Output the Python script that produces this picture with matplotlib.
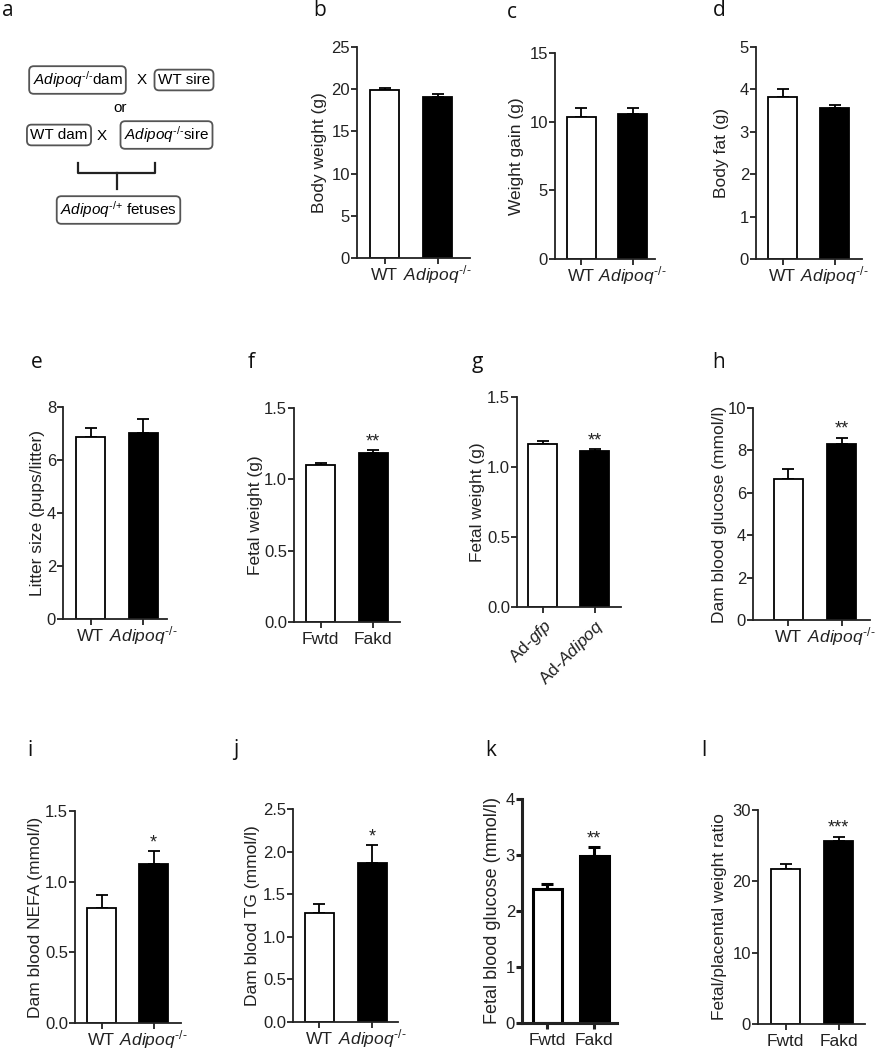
import matplotlib
matplotlib.use("Agg")
import matplotlib.pyplot as plt
from matplotlib.lines import Line2D
import numpy as np

plt.rcParams["font.family"] = ["Liberation Sans", "DejaVu Sans"]
plt.rcParams["mathtext.fontset"] = "custom"
plt.rcParams["mathtext.rm"] = "Liberation Sans"
plt.rcParams["mathtext.it"] = "Liberation Sans:italic"
plt.rcParams["mathtext.bf"] = "Liberation Sans:bold"

W, H = 876, 1050

# ---- data -------------------------------------------------------------
panels = ["b", "c", "d", "e", "f", "g", "h", "i", "j", "k", "l"]
ylabels = [
    "Body weight (g)",
    "Weight gain (g)",
    "Body fat (g)",
    "Litter size (pups/litter)",
    "Fetal weight (g)",
    "Fetal weight (g)",
    "Dam blood glucose (mmol/l)",
    "Dam blood NEFA (mmol/l)",
    "Dam blood TG (mmol/l)",
    "Fetal blood glucose (mmol/l)",
    "Fetal/placental weight ratio",
]
ko = r"$\mathit{Adipoq}^{\text{-/-}}$"
fetal = ["Fwtd", "Fakd"]
adeno = [r"Ad-$\mathit{gfp}$", r"Ad-$\mathit{Adipoq}$"]
xlabels = [
    ["WT", ko], ["WT", ko], ["WT", ko], ["WT", ko],
    fetal, adeno, ["WT", ko], ["WT", ko], ["WT", ko], fetal, fetal,
]
mean_ctrl = [19.9, 10.36, 3.81, 6.86, 1.098, 1.167, 6.67, 0.816, 1.284, 2.39, 21.74]
sem_ctrl = [0.2, 0.61, 0.20, 0.33, 0.014, 0.019, 0.43, 0.089, 0.099, 0.095, 0.66]
mean_trt = [19.1, 10.54, 3.57, 7.01, 1.186, 1.112, 8.32, 1.128, 1.866, 2.975, 25.66]
sem_trt = [0.3, 0.43, 0.07, 0.54, 0.019, 0.014, 0.27, 0.087, 0.207, 0.165, 0.61]
stars = ["", "", "", "", "**", "**", "**", "*", "*", "**", "***"]
ymax = [25, 15, 5, 8, 1.5, 1.5, 10, 1.5, 2.5, 4, 30]
ystep = [5, 5, 1, 2, 0.5, 0.5, 2, 0.5, 0.5, 1, 10]

# ---- layout (pixels) --------------------------------------------------
# axis left, axis right, y of zero, y of top tick, ctrl centre, trt centre,
# ylabel right edge, letter x, letter y
layout = {
    "b": (357, 470, 258, 47, 384.5, 437.5, 327, 313, 10),
    "c": (555, 655, 259, 53, 581, 632.5, 524, 507, 12),
    "d": (756, 862, 259, 47, 782.5, 834.5, 729, 713, 10),
    "e": (63, 167, 619, 407, 90.5, 143, 45, 31, 363),
    "f": (294, 400, 622, 408, 320.5, 373, 263, 248, 363),
    "g": (517, 621, 607, 397, 542.5, 594.5, 485, 472, 363),
    "h": (753, 870, 620, 408, 788, 841.5, 727, 712, 363),
    "i": (75, 181, 1023, 811, 101.5, 153.5, 43, 27, 750),
    "j": (293, 398, 1022, 809, 319, 372, 260, 233, 750),
    "k": (522, 617, 1023, 799, 547, 594, 501, 485, 750),
    "l": (758, 865, 1024, 810, 785.5, 838.5, 727, 701, 750),
}
bar_px = 29

fig = plt.figure(figsize=(W / 100, H / 100), dpi=100)


def fx(px):
    return px / W


def fy(py):
    return 1 - py / H


for n, p in enumerate(panels):
    x0, x1, yz, yt, cc, tc, lab_r, lx, ly = layout[p]
    lw = 2.2 if p == "k" else 1.3
    ax = fig.add_axes([fx(x0), fy(yz), (x1 - x0) / W, (yz - yt) / H])
    s = tc - cc
    ax.set_xlim((x0 - cc) / s, 1 + (x1 - tc) / s)
    ax.set_ylim(0, ymax[n])
    ax.bar([0, 1], [mean_ctrl[n], mean_trt[n]], width=bar_px / s,
           color=["white", "black"], edgecolor="black", linewidth=lw, zorder=2)
    ax.errorbar([0, 1], [mean_ctrl[n], mean_trt[n]],
                yerr=[[0, 0], [sem_ctrl[n], sem_trt[n]]], fmt="none",
                ecolor="black", elinewidth=lw, capsize=4.5, capthick=lw, zorder=1)
    if stars[n]:
        ax.annotate(stars[n], xy=(1, mean_trt[n] + sem_trt[n]), xytext=(0, 0),
                    textcoords="offset points", ha="center", va="bottom",
                    fontsize=13, color="#222222")
    for side in ["top", "right"]:
        ax.spines[side].set_visible(False)
    for side in ["left", "bottom"]:
        ax.spines[side].set_linewidth(lw)
        ax.spines[side].set_color("#222222")
    ax.set_yticks(np.arange(0, ymax[n] + ystep[n] / 2, ystep[n]))
    if ystep[n] < 1:
        ax.set_yticklabels([f"{v:.1f}" for v in ax.get_yticks()])
    else:
        ax.set_yticklabels([f"{v:g}" for v in ax.get_yticks()])
    ax.set_xticks([0, 1])
    ax.tick_params(axis="both", length=4, width=lw, color="#222222",
                   labelcolor="#222222")
    ax.tick_params(axis="y", pad=1, labelsize=12)
    if p == "g":
        ax.set_xticklabels(xlabels[n], rotation=45, ha="right",
                           rotation_mode="anchor")
        ax.tick_params(axis="x", pad=3, labelsize=12.5)
    else:
        ax.set_xticklabels(xlabels[n])
        for lab in ax.get_xticklabels():
            lab.set_va("baseline")
        ax.tick_params(axis="x", pad=12, labelsize=12.5)
    ax.set_ylabel(ylabels[n], fontsize=13 if p == "k" else 12.5,
                  color="#222222")
    ax.yaxis.set_label_coords((lab_r - x0) / (x1 - x0), 0.5)
    fig.text(fx(lx), fy(ly), p, fontsize=15, ha="left", va="center",
             family=["Open Sans", "DejaVu Sans"], color="#111111")

# ---- panel a: breeding scheme -----------------------------------------
fig.text(fx(2), fy(10), "a", fontsize=15, ha="left", va="center",
         family=["Open Sans", "DejaVu Sans"], color="#111111")
box = dict(boxstyle="round,pad=0.22,rounding_size=0.3", fc="white",
           ec="#555555", lw=1.3)
fs = 11
sup2 = r"$\mathit{Adipoq}^{\text{-/-}}$"
fig.text(fx(77.5), fy(80), sup2 + "dam", fontsize=fs,
         ha="center", va="center", bbox=box)
fig.text(fx(142), fy(80), "X", fontsize=fs, ha="center", va="center")
fig.text(fx(184), fy(80), "WT sire", fontsize=fs, ha="center", va="center",
         bbox=box)
fig.text(fx(120), fy(108), "or", fontsize=fs, ha="center", va="center")
fig.text(fx(59), fy(135), "WT dam", fontsize=fs, ha="center", va="center",
         bbox=box)
fig.text(fx(102), fy(136), "X", fontsize=fs, ha="center", va="center")
fig.text(fx(166.5), fy(135), sup2 + "sire", fontsize=fs,
         ha="center", va="center", bbox=box)
fig.text(fx(118.5), fy(210), r"$\mathit{Adipoq}^{\text{-/+}}$ fetuses",
         fontsize=fs, ha="center", va="center", bbox=box)
bracket = [
    ([78, 78, 155, 155], [163, 173, 173, 163]),
    ([117, 117], [173, 189]),
]
for bx, by in bracket:
    fig.add_artist(Line2D([fx(v) for v in bx], [fy(v) for v in by],
                          color="#222222", lw=1.6))

fig.savefig("out.png", dpi=100)
